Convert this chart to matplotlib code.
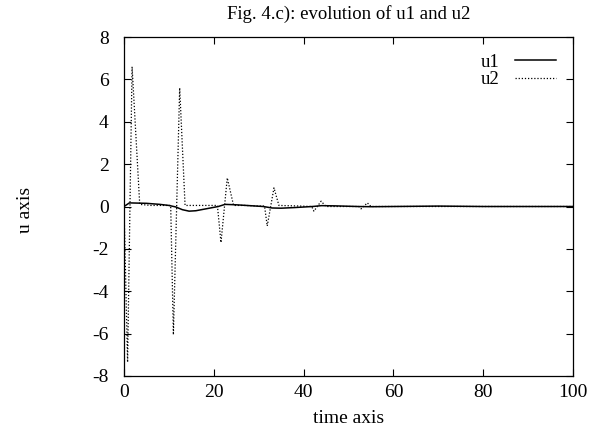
import matplotlib
matplotlib.use('Agg')
import matplotlib.pyplot as plt

# u1 (solid)
t1 = [0, 1.2, 5, 8, 10, 11.5, 13, 14.5, 16, 18, 21, 22.5, 25, 28, 31, 33, 35, 38,
      42, 44, 47, 52, 55, 60, 70, 80, 100]
u1 = [0, 0.17, 0.15, 0.1, 0.05, -0.02, -0.15, -0.22, -0.2, -0.12, 0.0, 0.1, 0.08,
      0.04, 0.0, -0.07, -0.08, -0.05, 0.0, 0.04, 0.03, 0.0, -0.01, 0.0, 0.02, 0.0, 0.0]

# u2 (dotted)
t2 = [0, 0.8, 1.8, 3.5, 6, 8, 10.4, 11.0, 12.4, 13.6, 16, 18, 20.8, 21.6, 23.0, 24.4,
      27, 30, 31.3, 31.9, 33.4, 34.5, 38, 41.8, 42.3, 43.9, 45, 48, 52.3, 52.8, 54.2,
      55, 60, 70, 80, 90, 100]
u2 = [0, -7.35, 6.6, 0.1, 0.05, 0.05, 0.05, -6.05, 5.6, 0.05, 0.05, 0.05, 0.05, -1.7,
      1.35, 0.05, 0.05, 0.02, 0.02, -0.92, 0.88, 0.05, 0.03, 0.0, -0.22, 0.25, 0.0,
      0.0, 0.0, -0.11, 0.17, 0.0, 0.0, 0.0, 0.0, 0.0, 0.0]

xticks = [0, 20, 40, 60, 80, 100]
yticks = [-8, -6, -4, -2, 0, 2, 4, 6, 8]

fs = 14
plt.rcParams['font.family'] = 'Liberation Serif'
plt.rcParams['font.size'] = fs
plt.rcParams['axes.unicode_minus'] = False
plt.rcParams['xtick.direction'] = 'in'
plt.rcParams['ytick.direction'] = 'in'

fig = plt.figure(figsize=(5.95, 4.32), dpi=100)
ax = fig.add_axes([124/595, 1-376/432, (573-124)/595, (376-37)/432])

ax.plot(t1, u1, color='black', lw=1.1, label='u1')
ax.plot(t2, u2, color='black', lw=0.9, linestyle=(0, (1, 1.5)), label='u2')

ax.set_xlim(0, 100)
ax.set_ylim(-8, 8)
ax.set_xticks(xticks)
ax.set_yticks(yticks)
ax.tick_params(top=True, right=True, length=5, width=0.8, labelsize=fs)
ax.tick_params(axis='x', pad=6)
ax.tick_params(axis='y', pad=11)
for s in ax.spines.values():
    s.set_linewidth(0.9)

ax.set_title('Fig. 4.c): evolution of u1 and u2', fontsize=13.5, pad=13)
ax.set_xlabel('time axis', fontsize=fs, labelpad=6)
fig.text(25/595, 1-210/432, 'u axis', rotation=90, ha='center', va='center', fontsize=fs)

leg = ax.legend(loc='upper right', frameon=False, markerfirst=False, handlelength=2.2,
                handletextpad=0.8, labelspacing=0.0, borderaxespad=0.5, fontsize=13.5)

plt.savefig('out.png', dpi=100)
